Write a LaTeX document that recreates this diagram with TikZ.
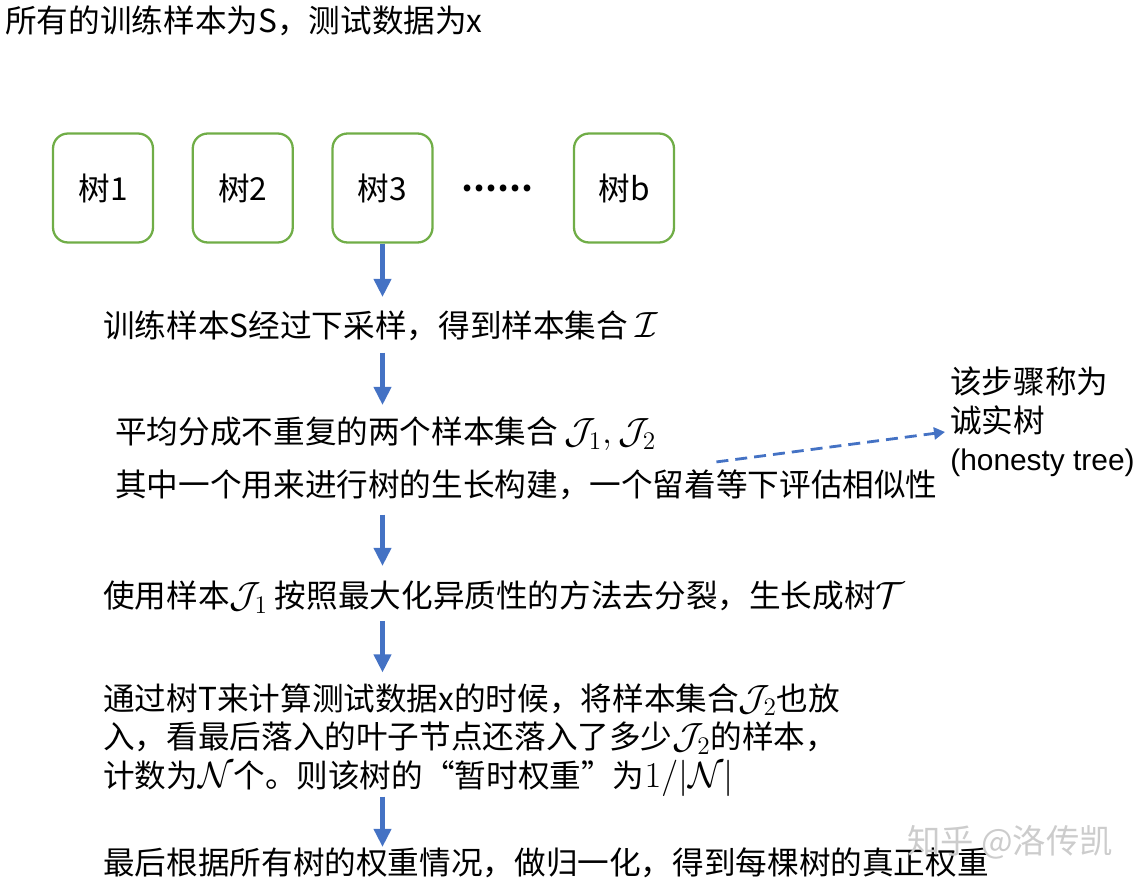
\documentclass[tikz,border=0pt]{standalone}
\usepackage{fontspec}
\setmainfont{Noto Sans CJK SC}
\newfontfamily\latinfont{Liberation Sans}
\usetikzlibrary{
  arrows.meta,
  positioning,  % right=of
  calc,
}
\definecolor{treegreen}{RGB}{112,173,71}
\definecolor{flowblue}{RGB}{68,114,196}
\newcommand{\mth}[1]{{\fontsize{21}{22}\selectfont$#1$}}
\def\mytreedist{0.75cm}
\tikzset{
  font=\fontsize{18}{21.8}\selectfont,
  tree box/.style={
    draw=treegreen,
    line width=1.3pt,
    rounded corners=0.3cm,
    minimum width=2cm,
    minimum height=2.18cm,
    inner sep=0mm
  },
  step text/.style={
    anchor=base west,
    inner sep=0mm
  },
  block text/.style={
    anchor=west,
    inner sep=0mm,
    align=left
  },
  flow/.style={
    draw=flowblue,
    line width=2.3pt,
    -{Triangle[width=0.34cm,length=0.36cm]}
  },
  side flow/.style={
    draw=flowblue,
    line width=1.6pt,
    dash pattern=on 0.24cm off 0.14cm,
    -{Triangle[width=0.24cm,length=0.22cm]}
  },
  watermark/.style={
    text=black!20,
    font=\fontsize{19}{22}\selectfont
  }
}

\begin{document}
\begin{tikzpicture}[x=0.02cm,y=-0.02cm,node distance=\mytreedist]
\useasboundingbox (0,0) rectangle (1144,888);
\node[step text] (title) at (5,33) {所有的训练样本为S，测试数据为x};
% trees
\node[tree box]           (tree1) at (103,188) {树1};
\node[tree box]           (tree2) [right=of tree1] {树2};
\node[tree box]           (tree3) [right=of tree2] {树3};
\node[inner sep=0mm]      (dots)  at (497,188) {\textbf{……}};
\node[tree box]           (treeb) at (624,188) {树b};
% steps
\node[step text] (s1)  at (103,338) {训练样本S经过下采样，得到样本集合 \mth{\mathcal{I}}};
\node[step text] (s2a) at (115,444) {平均分成不重复的两个样本集合\mth{\,\mathcal{J}_1, \mathcal{J}_2}};
\node[step text] (s2b) at (115,497) {其中一个用来进行树的生长构建，一个留着等下评估相似性};
\node[step text] (s3)  at (103,608) {使用样本\mth{\mathcal{J}_1} 按照最大化异质性的方法去分裂，生长成树\mth{\mathcal{T}}};
\node[block text] (s4) at (103,740) {通过树T来计算测试数据x的时候，将样本集合\mth{\mathcal{J}_2}也放\\
  入，看最后落入的叶子节点还落入了多少\mth{\mathcal{J}_2}的样本，\\
  计数为\mth{\mathcal{N}}个。则该树的“暂时权重”为\mth{1/|\mathcal{N}|}};
\node[step text] (s5)  at (103,874) {最后根据所有树的权重情况，做归一化，得到每棵树的真正权重};
\node[block text] (note) at (950,422) {该步骤称为\\诚实树\\{\latinfont\fontsize{17}{20}\selectfont (honesty tree)}};
\node[watermark] (wm) at (1010,842) {知乎 @洛传凯};
% arrows
\draw[flow,shorten >=0.28cm] (tree3.south) -- (tree3.south |- s1.north);
\draw[flow,shorten <=0.22cm,shorten >=0.24cm] (tree3.south |- s1.south)  -- (tree3.south |- s2a.north);
\draw[flow,shorten <=0.28cm,shorten >=0.3cm]  (tree3.south |- s2b.south) -- (tree3.south |- s3.north);
\draw[flow,shorten <=0.14cm,shorten >=0.22cm] (tree3.south |- s3.south)  -- (tree3.south |- s4.north);
\draw[flow] (tree3.south |- s4.south) -- (tree3.south |- s5.north);
\draw[side flow] ([xshift=3.8cm,yshift=0.16cm]s2b.north) -- ([xshift=-0.1cm,yshift=-0.2cm]note.west);
\end{tikzpicture}
\end{document}
